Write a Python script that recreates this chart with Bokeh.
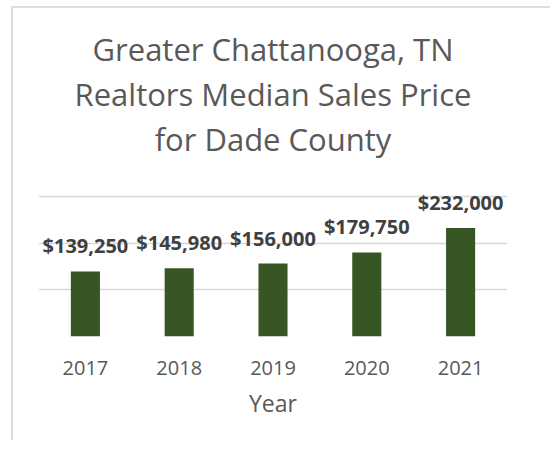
from bokeh.plotting import figure
from bokeh.models import ColumnDataSource, FactorRange, Range1d, FixedTicker, LabelSet, Title
from bokeh.core.properties import value
from bokeh.embed import file_html
from bokeh.resources import INLINE

years = ["2017", "2018", "2019", "2020", "2021"]
prices = [139250, 145980, 156000, 179750, 232000]
price_labels = ["$139,250", "$145,980", "$156,000", "$179,750", "$232,000"]
grid_ticks = [0, 100000, 200000, 300000]
title_lines = ["Greater Chattanooga, TN", "Realtors Median Sales Price", "for Dade County"]
x_label = "Year"

src = ColumnDataSource(dict(year=years, price=prices, label=price_labels))

p = figure(
    x_range=FactorRange(*years, range_padding=0),
    y_range=Range1d(0, 306000),
    width=539, height=434,
    min_border_left=25, min_border_right=45, min_border_top=185, min_border_bottom=106,
    output_backend="svg", toolbar_location=None,
    styles={"border-left": "2px solid #dedede", "border-top": "2px solid #dedede",
            "margin-left": "11px", "margin-top": "6px"},
)
p.outline_line_color = None
p.background_fill_color = "white"
p.border_fill_color = "white"
p.title.visible = False

# add closest-to-frame line first
bottom_pads = [0, 0, 33]
for line, pad in reversed(list(zip(title_lines, bottom_pads))):
    p.add_layout(Title(text=line, align="center",
                       text_font="Open Sans", text_font_size="31px",
                       text_font_style="normal", text_color="#595959", standoff=1,
                       padding=dict(left=0, right=0, top=0, bottom=pad)), "above")

p.vbar(x="year", top="price", width=0.31, source=src, fill_color="#375623", line_color=None)

p.xgrid.grid_line_color = None
p.ygrid.ticker = FixedTicker(ticks=grid_ticks)
p.ygrid.grid_line_color = "#d9d9d9"
p.ygrid.grid_line_width = 1.5
p.yaxis.visible = False

ax = p.xaxis[0]
ax.axis_line_color = None
ax.major_tick_line_color = None
ax.minor_tick_line_color = None
ax.major_tick_out = 0
ax.major_tick_in = 0
ax.major_label_standoff = 24
ax.major_label_text_font = "Open Sans"
ax.major_label_text_font_size = "20px"
ax.major_label_text_color = "#595959"
ax.axis_label = x_label
ax.axis_label_standoff = 9
ax.axis_label_text_font = "Open Sans"
ax.axis_label_text_font_size = "23px"
ax.axis_label_text_font_style = "normal"
ax.axis_label_text_color = "#595959"

labels = LabelSet(x="year", y="price", text="label", source=src, y_offset=18,
                  text_align="center", text_baseline="alphabetic",
                  text_font=value("Open Sans"), text_font_size="20px", text_font_style="bold",
                  text_color="#404040")
p.add_layout(labels)

open("out.html", "w").write(file_html(p, INLINE))
